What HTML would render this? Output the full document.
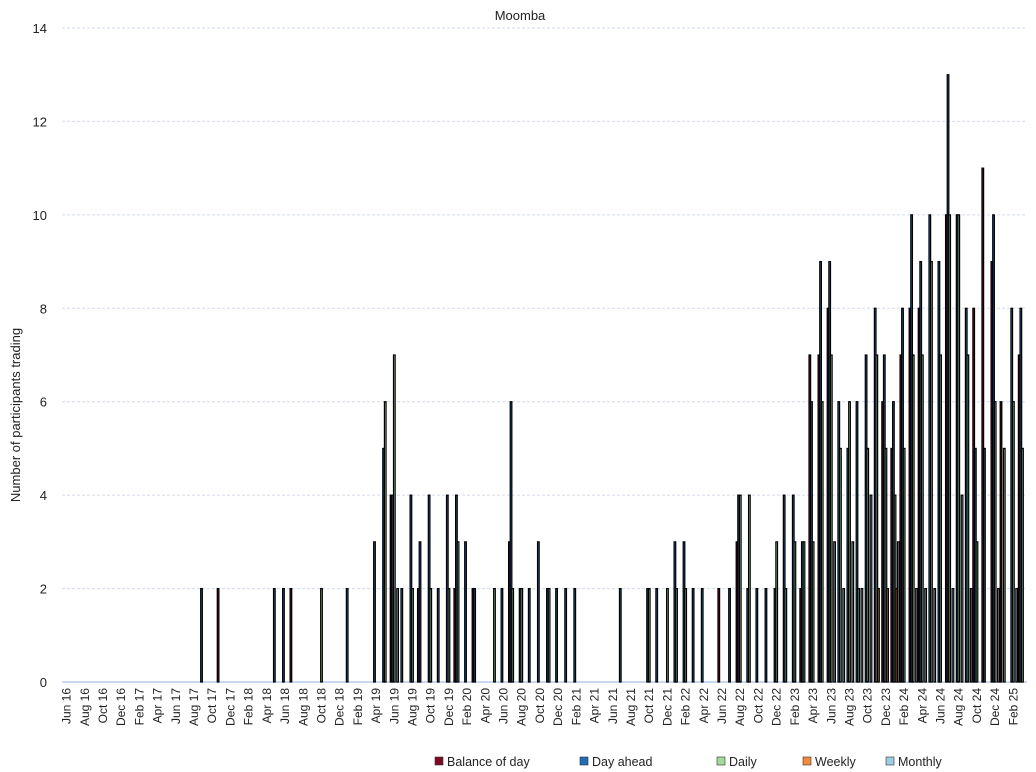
<!DOCTYPE html>
<html><head><meta charset="utf-8">
<style>
body{margin:0;background:#fff;font-family:"Liberation Sans",sans-serif;}
#wrap{position:relative;width:1036px;height:772px;overflow:hidden;}
svg text{font-family:"Liberation Sans",sans-serif;fill:#222;}
</style></head>
<body>
<div id="wrap">
<svg id="chart" width="1036" height="772">
<text x="520" y="20" font-size="13" text-anchor="middle">Moomba</text>
<text transform="translate(20,415) rotate(-90)" font-size="13" text-anchor="middle">Number of participants trading</text>
<g id="grid"></g><g id="bars"></g><g id="xlabels"></g><g id="ylabels"></g>
<g id="legend"></g>
</svg>
</div>
<script>
const tickLabels=["Jun 16","Aug 16","Oct 16","Dec 16","Feb 17","Apr 17","Jun 17","Aug 17","Oct 17","Dec 17","Feb 18","Apr 18","Jun 18","Aug 18","Oct 18","Dec 18","Feb 19","Apr 19","Jun 19","Aug 19","Oct 19","Dec 19","Feb 20","Apr 20","Jun 20","Aug 20","Oct 20","Dec 20","Feb 21","Apr 21","Jun 21","Aug 21","Oct 21","Dec 21","Feb 22","Apr 22","Jun 22","Aug 22","Oct 22","Dec 22","Feb 23","Apr 23","Jun 23","Aug 23","Oct 23","Dec 23","Feb 24","Apr 24","Jun 24","Aug 24","Oct 24","Dec 24","Feb 25"];
const yTicks=[0,2,4,6,8,10,12,14];
const seriesNames=["Balance of day","Day ahead","Daily","Weekly","Monthly"];
const balanceOfDay=[0,0,0,0,0,0,0,0,0,0, 0,0,0,0,0,0,0,2,0,0, 0,0,0,0,0,2,0,0,0,0, 0,0,0,0,0,0,4,0,0,2, 0,0,0,2,0,2,0,0,0,3, 0,0,0,0,0,0,0,0,0,0, 0,0,0,0,0,0,0,0,0,0, 0,0,2,0,3,0,0,0,0,0, 0,2,7,7,8,0,0,0,0,0, 6,5,7,8,8,0,0,10,0,0, 8,11,9,6,0,7];
const dayAhead=[0,0,0,0,0,0,0,0,0,0, 0,0,0,0,0,2,0,0,0,0, 0,0,0,2,2,0,0,0,0,0, 0,2,0,0,3,5,4,2,4,3, 4,2,4,4,3,2,0,0,2,6, 2,2,3,2,2,2,2,0,0,0, 0,2,0,0,2,2,0,3,3,2, 2,0,0,2,4,2,2,2,2,4, 4,3,6,9,9,6,5,6,7,8, 7,6,8,10,9,10,9,13,10,8, 5,5,10,0,8,8];
const daily=[0,0,0,0,0,0,0,0,0,0, 0,0,0,0,0,0,0,0,0,0, 0,0,0,0,0,0,0,0,2,0, 0,0,0,0,0,6,7,0,2,0, 2,0,2,3,0,0,0,2,0,2, 2,0,0,2,0,0,0,0,0,0, 0,0,0,0,2,0,2,2,2,0, 0,0,0,0,4,4,0,0,3,2, 3,3,3,6,7,5,6,2,5,7, 5,4,5,7,7,9,7,10,10,7, 3,0,6,5,6,5];
const weekly=[0,0,0,0,0,0,0,0,0,0, 0,0,0,0,0,0,0,0,0,0, 0,0,0,0,0,0,0,0,0,0, 0,0,0,0,0,0,0,0,0,0, 0,0,0,0,0,0,0,0,0,0, 0,0,0,0,0,0,0,0,0,0, 0,0,0,0,0,0,0,0,0,0, 0,0,0,0,0,0,0,0,0,0, 0,0,0,0,0,0,0,0,0,2, 2,2,0,0,0,0,0,0,0,0, 0,0,0,0,0,0];
const monthly=[0,0,0,0,0,0,0,0,0,0, 0,0,0,0,0,0,0,0,0,0, 0,0,0,0,0,0,0,0,0,0, 0,0,0,0,0,0,2,0,0,0, 0,0,0,0,0,0,0,0,0,0, 0,0,0,0,0,0,0,0,0,0, 0,0,0,0,0,0,0,0,0,0, 0,0,0,0,0,0,0,0,0,0, 0,0,0,0,3,2,3,2,4,0, 0,3,0,2,2,2,0,2,4,2, 0,0,2,0,2,0];

const colors=["#7d0a22","#1f6db3","#a3d99b","#f58a3c","#9dcde3"];
const NS="http://www.w3.org/2000/svg";
const X0=62,X1=1027,Y0=682,Y1=28,YMAX=14;
const nMonths=balanceOfDay.length;
const bw=(X1-X0)/nMonths;
const xScale=i=>X0+i*bw;
const yScale=v=>Y0-(v/YMAX)*(Y0-Y1);
function mk(tag,attrs,parent){const e=document.createElementNS(NS,tag);for(const k in attrs)e.setAttribute(k,attrs[k]);parent.appendChild(e);return e;}
const grid=document.getElementById('grid'),ylab=document.getElementById('ylabels');
yTicks.forEach(t=>{
  const y=yScale(t);
  if(t>0){const l=mk('line',{x1:X0,x2:X1,y1:y,y2:y,stroke:'#d3dcea','stroke-width':1,'stroke-dasharray':'3,2'},grid);
  
  }
  const tx=mk('text',{x:47,y:y+5,'font-size':13,'text-anchor':'end'},ylab);
  tx.textContent=t;
  
  
});
const ax=mk('line',{x1:X0,x2:X1,y1:Y0,y2:Y0,stroke:'#b8cbe8','stroke-width':1.5},grid);


const bars=document.getElementById('bars');
const allSeries=[balanceOfDay,dayAhead,daily,weekly,monthly];
const sw=bw/5;
allSeries.forEach((s,si)=>{
  s.forEach((v,i)=>{
    if(!v)return;
    const x=xScale(i)+si*sw*0.9+0.5;
    const r=mk('rect',{x:x,y:yScale(v),width:Math.max(sw*0.9,1.6),height:yScale(0)-yScale(v),fill:colors[si],stroke:'#000','stroke-width':1.2},bars);
    
    
  });
});
const xl=document.getElementById('xlabels');
tickLabels.forEach((t,k)=>{
  const x=xScale(k*2)+bw/2+4;
  const tx=mk('text',{transform:`translate(${x},688) rotate(-90)`,'font-size':12,'text-anchor':'end'},xl);
  tx.textContent=t;
  
  
});
const lg=document.getElementById('legend');
const lx=[435,580,717,803,886];
seriesNames.forEach((n,i)=>{
  const g=mk('g',{},lg);
  
  
  mk('rect',{x:lx[i],y:757,width:8,height:8,fill:colors[i],stroke:'#333','stroke-width':0.6},g);
  const tx=mk('text',{x:lx[i]+12,y:766,'font-size':12.5},g);
  tx.textContent=n;
});
</script>
</body></html>
